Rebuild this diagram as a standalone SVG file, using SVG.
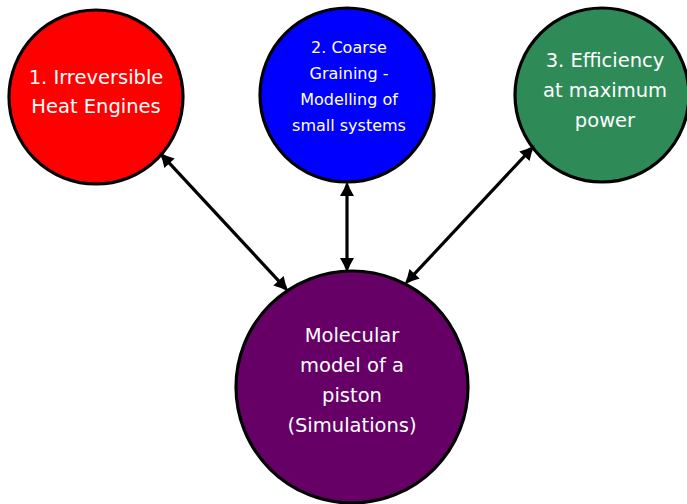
<svg xmlns="http://www.w3.org/2000/svg" width="687" height="504" viewBox="0 0 687 504">
<style>
.node circle{stroke:#000;stroke-width:3.2}
.node text{fill:#fff;font-family:"DejaVu Sans","Liberation Sans",sans-serif;text-anchor:middle}
.big{font-size:19.5px}
.small{font-size:16px}
.conn line{stroke:#000;stroke-width:3.2}
.conn use{fill:#000}
</style>
<defs>
<path id="ah" d="M1,0 Q-7,-2.5 -14,-7 L-14,7 Q-7,2.5 1,0 Z"/>
</defs>
<g id="n1" class="node">
<circle cx="96" cy="97" r="87" fill="#ff0000"/>
<text class="big" x="96" y="84">1. Irreversible</text>
<text class="big" x="96" y="113">Heat Engines</text>
</g>
<g id="n2" class="node">
<circle cx="347" cy="95" r="87" fill="#0000ff"/>
<text class="small" x="349" y="53">2. Coarse</text>
<text class="small" x="349" y="79">Graining -</text>
<text class="small" x="349" y="105">Modelling of</text>
<text class="small" x="349" y="131">small systems</text>
</g>
<g id="n3" class="node">
<circle cx="602" cy="95" r="87" fill="#2e8b57"/>
<text class="big" x="605" y="67">3. Efficiency</text>
<text class="big" x="605" y="97">at maximum</text>
<text class="big" x="605" y="127">power</text>
</g>
<g id="n4" class="node">
<circle cx="352" cy="387" r="116" fill="#660066"/>
<text class="big" x="352" y="342">Molecular</text>
<text class="big" x="352" y="372">model of a</text>
<text class="big" x="352" y="402">piston</text>
<text class="big" x="352" y="432">(Simulations)</text>
</g>
<g id="connectors" class="conn">
<line x1="165.4" y1="158.9" x2="282.6" y2="285.1"/>
<use href="#ah" transform="translate(288,291) rotate(47.2)"/>
<use href="#ah" transform="translate(160,153) rotate(227.2)"/>
<line x1="347" y1="190" x2="347" y2="264"/>
<use href="#ah" transform="translate(347,272) rotate(90)"/>
<use href="#ah" transform="translate(347,182) rotate(-90)"/>
<line x1="528.5" y1="151.8" x2="410.5" y2="278.2"/>
<use href="#ah" transform="translate(405,284) rotate(133.1)"/>
<use href="#ah" transform="translate(534,146) rotate(-46.9)"/>
</g>
</svg>
